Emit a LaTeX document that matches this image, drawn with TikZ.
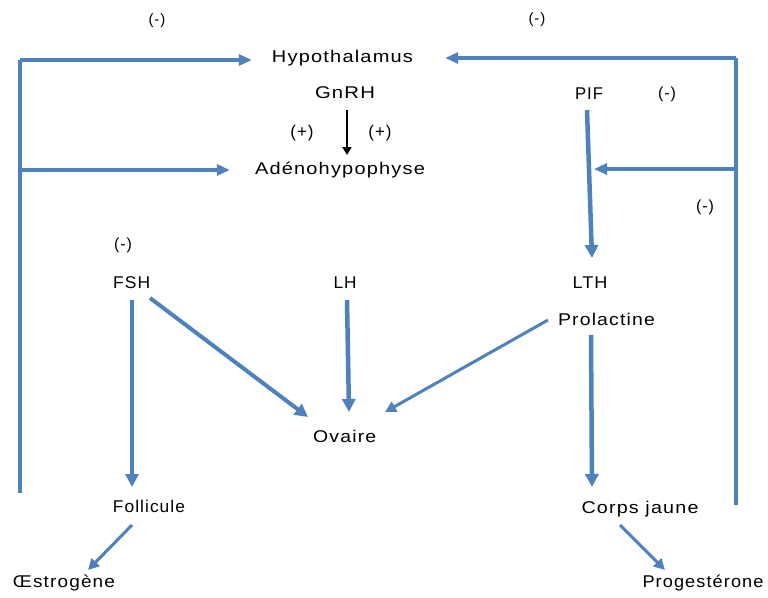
\documentclass[tikz,border=0pt]{standalone}
\usepackage{fontspec}
\setmainfont{Liberation Sans}
\newfontfamily\lab[LetterSpace=6]{Liberation Sans}
\usetikzlibrary{arrows.meta}
\definecolor{fb}{RGB}{79,129,189}
\newcommand\lbl[2]{\resizebox{#1pt}{\height}{\lab\fontsize{17}{20}\selectfont #2}}
\newcommand\sgn[2]{{\lab\fontsize{#1}{#1}\selectfont #2}}
\begin{document}
\begin{tikzpicture}[x=1pt,y=-1pt,
  txt/.style={inner sep=0pt, anchor=base},
  sg/.style={inner sep=0pt, anchor=center},
  feed/.style={draw=fb, line width=4pt},
  ha/.style={draw=fb, line width=3.5pt, -{Triangle[length=13pt,width=11pt]}},
  va/.style={draw=fb, line width=4.5pt, -{Triangle[length=13pt,width=13pt]}},
  da/.style={draw=fb, line width=4pt, -{Triangle[length=13pt,width=13pt]}},
  ta/.style={draw=fb, line width=3pt, -{Triangle[length=11pt,width=11pt]}},
  ba/.style={draw=black, line width=1.8pt, -{Triangle[length=8pt,width=9pt]}}]
\useasboundingbox[fill=white] (0,0) rectangle (768,597);

% signs
\node[sg] (m1) at (157,21) {\sgn{15}{(-)}};
\node[sg] (m2) at (537,20) {\sgn{15}{(-)}};
\node[sg] (m3) at (667,94) {\sgn{16}{(-)}};
\node[sg] (m4) at (705,207) {\sgn{16}{(-)}};
\node[sg] (m5) at (123,245) {\sgn{16}{(-)}};
\node[sg] (p1) at (302,133) {\sgn{17}{(+)}};
\node[sg] (p2) at (380,133) {\sgn{17}{(+)}};

% labels
\node[txt] (hyp) at (342.5,62) {\lbl{141}{Hypothalamus}};
\node[txt] (gnrh) at (345,98.3) {\lbl{60}{GnRH}};
\node[txt] (adeno) at (340,174) {\lbl{170}{Adénohypophyse}};
\node[txt] (pif) at (589,99) {\lbl{28}{PIF}};
\node[txt] (fsh) at (131.7,288) {\lbl{37}{FSH}};
\node[txt] (lh) at (345,288) {\lbl{23}{LH}};
\node[txt] (lth) at (590,288) {\lbl{35}{LTH}};
\node[txt] (prol) at (606.5,325) {\lbl{97}{Prolactine}};
\node[txt] (ov) at (344.7,442) {\lbl{63}{Ovaire}};
\node[txt] (foll) at (149,512.7) {\lbl{72}{Follicule}};
\node[txt] (cj) at (640,513) {\lbl{117}{Corps jaune}};
\node[txt] (oes) at (64,587) {\lbl{102}{Œstrogène}};
\node[txt] (prog) at (703,587) {\lbl{121}{Progestérone}};

% feedback loops
\coordinate (lb) at (20,493);
\coordinate (rb) at (736,505);
\coordinate (t1) at ([shift={(-20,-2)}]hyp.base west);
\coordinate (t2) at ([shift={(-25,-4)}]adeno.base west);
\coordinate (t3) at ([shift={(32,-4)}]hyp.base east);
\coordinate (t4) at ([shift={(5,70)}]pif.base);
\draw[feed] (lb) -- (lb |- t1);
\draw[ha] (lb |- t1) -- (t1);
\draw[ha] (lb |- t2) -- (t2);
\draw[feed] (rb) -- (rb |- t3);
\draw[ha] (rb |- t3) -- (t3);
\draw[ha] (rb |- t4) -- (t4);

% main arrows
\draw[ba] ([shift={(2,12)}]gnrh.base) -- ([shift={(7,-19)}]adeno.base);
\draw[va] ([shift={(-2,11)}]pif.base) -- ([shift={(2,-30)}]lth.base);
\draw[da] ([shift={(0.3,12)}]fsh.base) -- ([shift={(-17,-25.7)}]foll.base);
\draw[da] ([shift={(18.3,10)}]fsh.base) -- ([shift={(-36.7,-25)}]ov.base);
\draw[va] ([shift={(2,12)}]lh.base) -- ([shift={(4.3,-30)}]ov.base);
\draw[ta] ([shift={(-58.5,-5)}]prol.base) -- ([shift={(40.3,-30)}]ov.base);
\draw[va] ([shift={(-15.5,10)}]prol.base) -- ([shift={(-48,-26)}]cj.base);
\draw[ta] ([shift={(-17,12.3)}]foll.base) -- ([shift={(24,-17)}]oes.base);
\draw[ta] ([shift={(-20,12)}]cj.base) -- ([shift={(-38,-17)}]prog.base);
\end{tikzpicture}
\end{document}
